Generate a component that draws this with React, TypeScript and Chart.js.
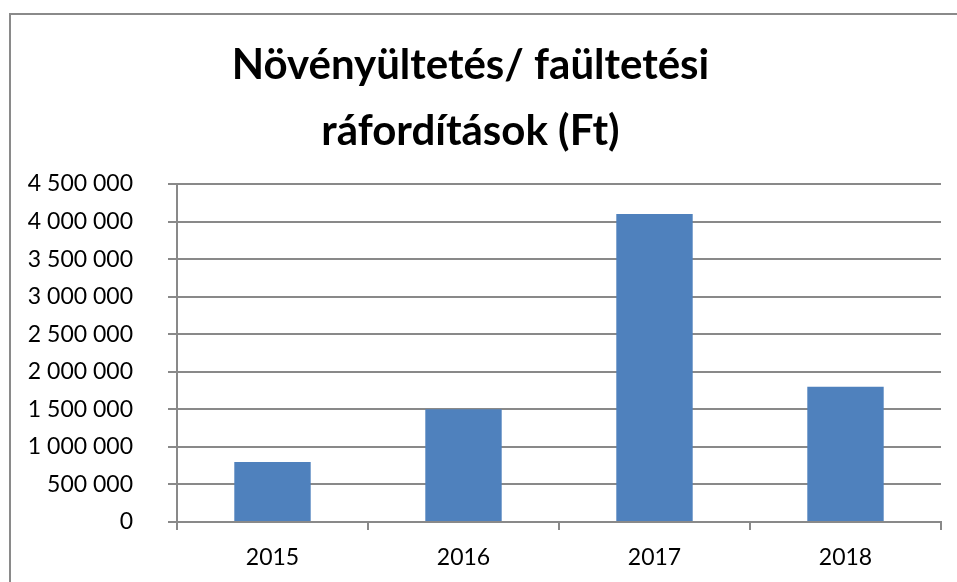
import React, { useEffect, useRef } from "react";
import { Chart, registerables } from "chart.js";

Chart.register(...registerables);

const categories: string[] = ["2015", "2016", "2017", "2018"];
const values: number[] = [800000, 1500000, 4100000, 1800000];
const titleLines: string[] = ["Növényültetés/ faültetési", "ráfordítások (Ft)"];
const yMin = 0;
const yMax = 4500000;
const yStep = 500000;

const GRID = "#898989";
const FONT = "Lato, 'Open Sans', sans-serif";

function fmt(v: number): string {
  return String(v).replace(/\B(?=(\d{3})+(?!\d))/g, " ");
}

export default function App() {
  const ref = useRef<HTMLCanvasElement | null>(null);

  useEffect(() => {
    if (!ref.current) return;
    const chart = new Chart(ref.current, {
      type: "bar",
      data: {
        labels: categories,
        datasets: [
          {
            data: values,
            backgroundColor: "#4F81BD",
            borderWidth: 0,
            barPercentage: 0.4,
            categoryPercentage: 1.0,
          },
        ],
      },
      options: {
        animation: false,
        responsive: false,
        maintainAspectRatio: false,
        layout: { padding: { top: 0, right: 16, left: 0, bottom: 0 } },
        plugins: {
          legend: { display: false },
          tooltip: { enabled: false },
          title: {
            display: true,
            text: titleLines,
            color: "#000000",
            font: { family: FONT, size: 42, weight: "bold", lineHeight: 66 / 42 },
            padding: { top: 32, bottom: 20 },
          },
        },
        scales: {
          x: {
            grid: {
              offset: true,
              drawOnChartArea: false,
              drawTicks: true,
              tickLength: 8,
              color: GRID,
              lineWidth: 2,
            },
            border: { display: true, color: GRID, width: 2 },
            ticks: {
              color: "#000000",
              font: { family: FONT, size: 23 },
              padding: 14,
            },
            afterFit: (scale: any) => {
              scale.height = 60;
            },
          },
          y: {
            min: yMin,
            max: yMax,
            grid: {
              color: GRID,
              lineWidth: 2,
              tickLength: 9,
              drawTicks: true,
            },
            border: { display: true, color: GRID, width: 2 },
            ticks: {
              stepSize: yStep,
              color: "#000000",
              font: { family: FONT, size: 23 },
              padding: 35,
              callback: (v: any) => fmt(Number(v)),
            },
            afterFit: (scale: any) => {
              scale.width = 177;
            },
          },
        },
      },
    });
    return () => chart.destroy();
  }, []);

  return (
    <div
      style={{
        position: "fixed",
        left: 0,
        top: 0,
        width: 957,
        height: 582,
        overflow: "hidden",
        background: "#ffffff",
      }}
    >
      <div
        style={{
          position: "absolute",
          left: 9,
          top: 13,
          width: 1200,
          height: 900,
          border: "2px solid #8a8a8a",
          boxSizing: "border-box",
        }}
      />
      <canvas
        ref={ref}
        width={957}
        height={582}
        style={{ position: "absolute", left: 0, top: 0, width: 957, height: 582 }}
      />
    </div>
  );
}
